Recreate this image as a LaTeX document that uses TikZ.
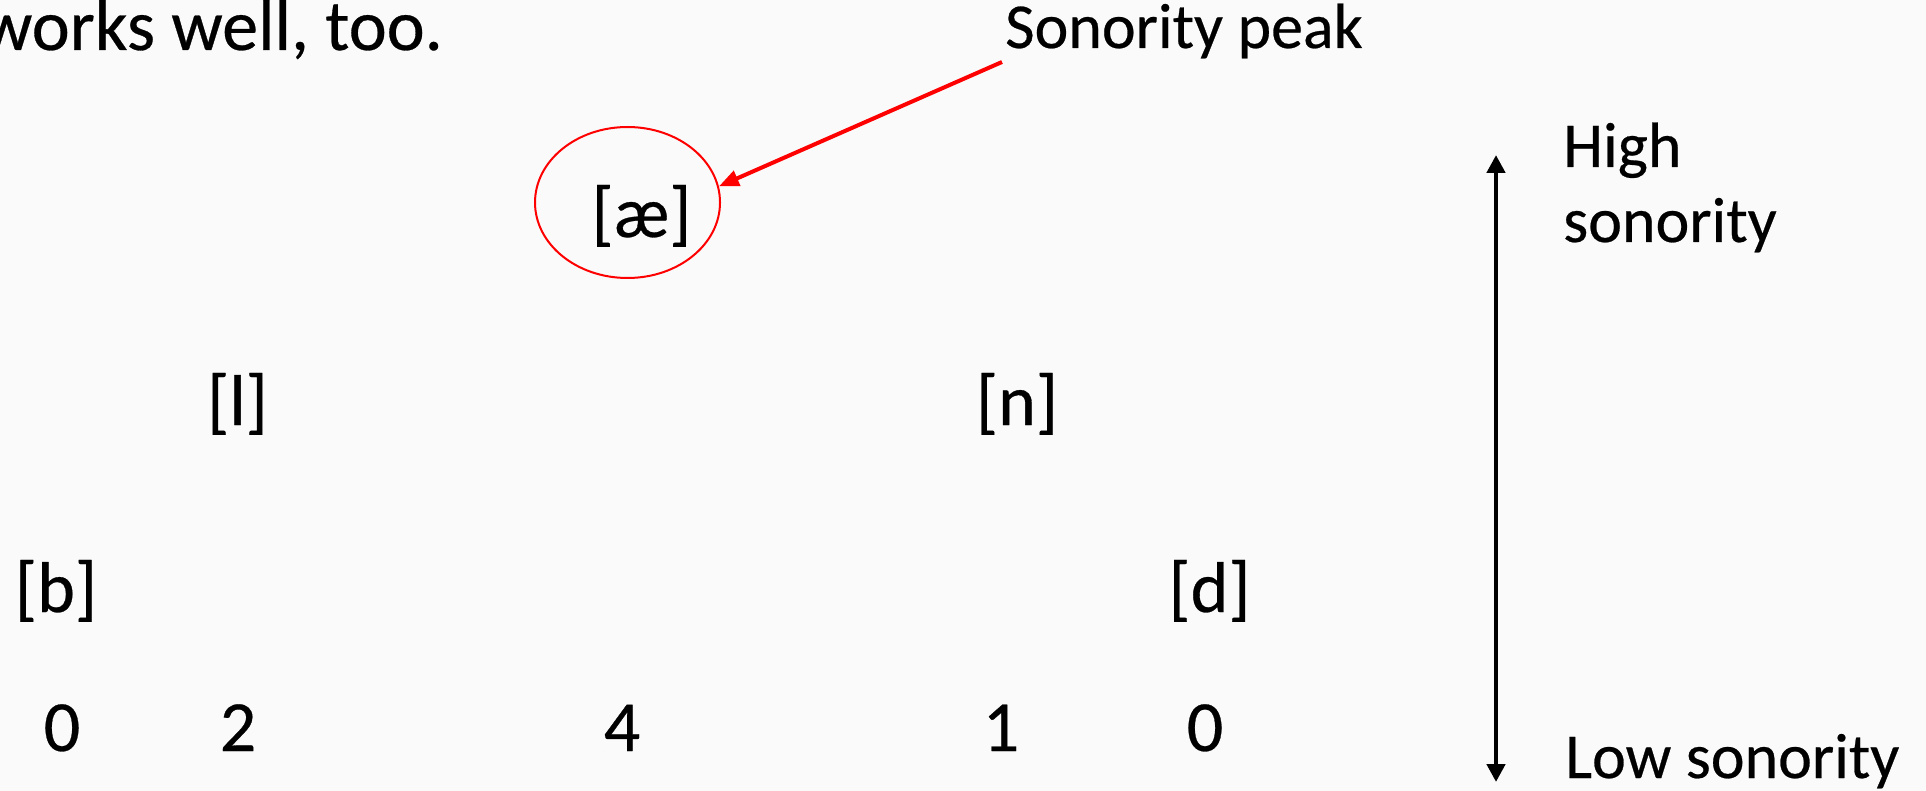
\documentclass[tikz,border=0pt]{standalone}
\usepackage{fontspec}
\setmainfont{Carlito}[FakeBold=0.4]
\usetikzlibrary{arrows.meta,shapes.geometric}
\definecolor{bg}{RGB}{250,250,250}
\definecolor{pkred}{RGB}{255,0,0}
\tikzset{
  big/.style={inner sep=0pt, font=\fontsize{72}{86}\selectfont},
  small/.style={inner sep=0pt, font=\fontsize{64}{76}\selectfont},
}
\begin{document}
\begin{tikzpicture}[x=1pt,y=-1pt]
\useasboundingbox (0,0) rectangle (1926,791);
\clip (0,0) rectangle (1926,791);
\fill[bg] (0,0) rectangle (1926,791);
% top-left partial text
\node[big, anchor=base east] (works) at (443,50) {works well, too.};
% label
\node[small, anchor=base west] (peak) at (1005,48) {Sonority peak};
% ellipse and vowel
\node[ellipse, draw=pkred, line width=2pt, minimum width=185pt, minimum height=151pt, inner sep=0pt] (ell) at (627.5,202.5) {};
\node[big, anchor=base] (ae) at (641.5,237) {[æ]};
\coordinate (src) at (1002,62);
\draw[pkred, line width=4pt, -{Triangle[length=20pt,width=16pt]}] (src) -- (ell.10);
% segments
\node[big, anchor=base] (l) at (237.5,425) {[l]};
\node[big, anchor=base] (n) at (1017,425) {[n]};
\node[big, anchor=base] (b) at (56,612) {[b]};
\node[big, anchor=base] (d) at (1209.5,612) {[d]};
% numbers
\node[big, anchor=base] (n0a) at (62,751) {0};
\node[big, anchor=base] (n2) at (238,751) {2};
\node[big, anchor=base] (n4) at (622,751) {4};
\node[big, anchor=base] (n1) at (1001,751) {1};
\node[big, anchor=base] (n0b) at (1205,751) {0};
% scale arrow
\coordinate (top) at (1496,155);
\coordinate (bot) at (1496,782);
\draw[line width=4.5pt, {Triangle[length=18pt,width=18pt]}-{Triangle[length=18pt,width=18pt]}] (top) -- (bot);
\node[small, anchor=base west] (high) at (1563,167) {High};
\node[small, anchor=base west] (son) at (1563,242) {sonority};
\node[small, anchor=base west] (low) at (1565,778) {Low sonority};
\end{tikzpicture}
\end{document}
